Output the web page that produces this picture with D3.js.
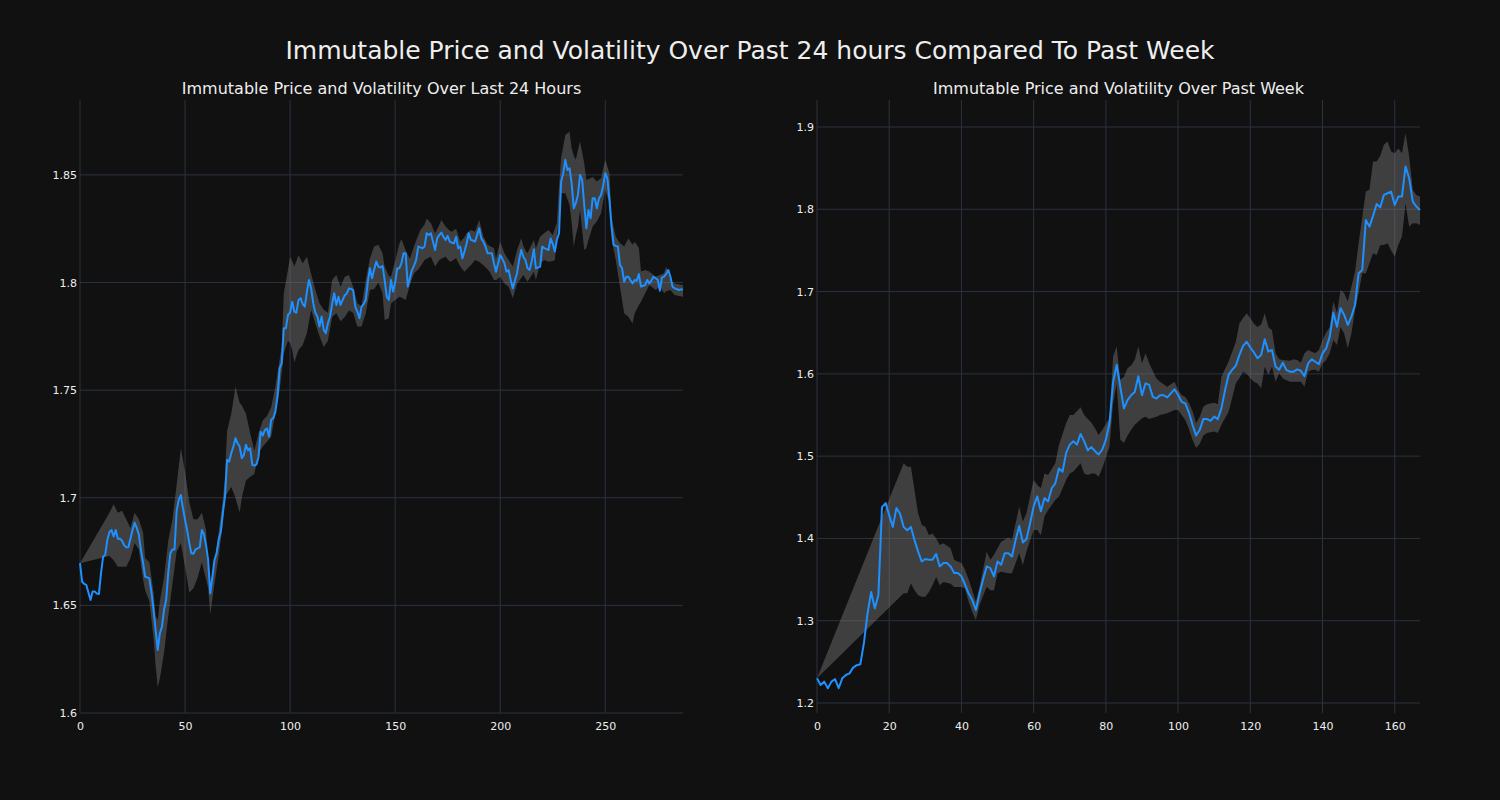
<!DOCTYPE html>
<html><head><meta charset="utf-8">
<script src="https://cdn.jsdelivr.net/npm/d3@7"></script>
<style>
html,body{margin:0;padding:0;background:#111111;}
svg{display:block;}
text{font-family:"DejaVu Sans",sans-serif;fill:#eeeeee;}
</style></head><body>
<svg id="c" width="1500" height="800"></svg>
<script>
const mainTitle = "Immutable Price and Volatility Over Past 24 hours Compared To Past Week";
const dayTitle = "Immutable Price and Volatility Over Last 24 Hours";
const weekTitle = "Immutable Price and Volatility Over Past Week";

// Last 24 hours (5-minute steps): index, price
const dayX = [0,1,2,3,4,5,6,7,8,9,10,11,12,13,14,15,16,17,18,19,20,21,22,23,24,25,26,27,28,29,30,31,32,33,34,35,36,37,38,39,40,41,42,43,44,45,46,47,48,49,50,51,52,53,54,55,56,57,58,59,60,61,62,63,64,65,66,67,68,69,70,71,72,73,74,75,76,77,78,79,80,81,82,83,84,85,86,87,88,89,90,91,92,93,94,95,96,97,98,99,100,101,102,103,104,105,106,107,108,109,110,111,112,113,114,115,116,117,118,119,120,121,122,123,124,125,126,127,128,129,130,131,132,133,134,135,136,137,138,139,140,141,142,143,144,145,146,147,148,149,150,151,152,153,154,155,156,157,158,159,160,161,162,163,164,165,166,167,168,169,170,171,172,173,174,175,176,177,178,179,180,181,182,183,184,185,186,187,188,189,190,191,192,193,194,195,196,197,198,199,200,201,202,203,204,205,206,207,208,209,210,211,212,213,214,215,216,217,218,219,220,221,222,223,224,225,226,227,228,229,230,231,232,233,234,235,236,237,238,239,240,241,242,243,244,245,246,247,248,249,250,251,252,253,254,255,256,257,258,259,260,261,262,263,264,265,266,267,268,269,270,271,272,273,274,275,276,277,278,279,280,281,282,283,284,285,286,287];
const dayPrice = [1.6696,1.661,1.660,1.6595,1.656,1.6525,1.6564,1.6564,1.6555,1.6553,1.665,1.6726,1.6735,1.6804,1.684,1.685,1.682,1.685,1.681,1.681,1.680,1.678,1.677,1.677,1.681,1.685,1.6884,1.686,1.683,1.6757,1.670,1.6633,1.663,1.6625,1.656,1.6479,1.6386,1.6293,1.637,1.640,1.648,1.6525,1.665,1.6742,1.676,1.676,1.694,1.699,1.7013,1.695,1.6897,1.685,1.679,1.6742,1.674,1.676,1.6765,1.677,1.685,1.683,1.678,1.671,1.6556,1.6633,1.6711,1.6742,1.6804,1.6843,1.693,1.7005,1.7176,1.7168,1.7207,1.7238,1.7277,1.7253,1.7238,1.7184,1.7199,1.7246,1.7220,1.723,1.7153,1.7149,1.7155,1.7192,1.7307,1.729,1.7315,1.7322,1.7284,1.7362,1.737,1.740,1.747,1.760,1.7625,1.7788,1.7788,1.785,1.786,1.7911,1.7865,1.786,1.7919,1.7927,1.790,1.7888,1.7958,1.8012,1.7973,1.7904,1.786,1.7842,1.7796,1.7842,1.778,1.7765,1.7811,1.7842,1.790,1.795,1.7896,1.7934,1.7896,1.7919,1.794,1.795,1.7973,1.797,1.7965,1.7888,1.7865,1.7834,1.7888,1.790,1.7919,1.8004,1.8066,1.802,1.806,1.8097,1.8074,1.807,1.8077,1.8012,1.7935,1.7919,1.8012,1.7958,1.800,1.8066,1.8066,1.809,1.8136,1.8136,1.7981,1.802,1.8058,1.808,1.8105,1.8167,1.8163,1.8159,1.8167,1.8229,1.8221,1.8229,1.819,1.8151,1.8205,1.822,1.8232,1.8213,1.8198,1.8217,1.819,1.8185,1.8182,1.8213,1.8159,1.8167,1.8113,1.8144,1.818,1.8229,1.8198,1.8195,1.819,1.822,1.8252,1.8205,1.819,1.8167,1.8136,1.8136,1.8136,1.809,1.805,1.809,1.8128,1.811,1.809,1.805,1.8058,1.8012,1.7973,1.801,1.8043,1.8105,1.8151,1.812,1.8105,1.8066,1.8058,1.810,1.8155,1.8066,1.807,1.8074,1.8167,1.816,1.8155,1.8151,1.8205,1.818,1.8144,1.820,1.8229,1.8469,1.8508,1.857,1.8523,1.8531,1.8461,1.8345,1.837,1.8407,1.850,1.8477,1.836,1.8252,1.8337,1.8298,1.8391,1.8391,1.8345,1.8391,1.8407,1.845,1.8508,1.8484,1.8384,1.826,1.8175,1.817,1.8167,1.8082,1.8066,1.8004,1.8027,1.8027,1.801,1.7996,1.8012,1.8008,1.8039,1.7981,1.7985,1.7988,1.8012,1.7996,1.801,1.8027,1.802,1.8012,1.7962,1.8024,1.8027,1.804,1.8058,1.8027,1.7981,1.7973,1.797,1.7965,1.7968,1.7968];
// volatility band (index, low, high)
const dayBandX = [0,14,16,18,20,22,24,26,28,30,31,33,35,36,37,38,40,42,44,46,48,50,52,54,56,58,60,61,62,64,66,68,69,70,72,74,76,77,79,81,83,85,87,89,91,93,95,96,97,99,100,101,102,104,106,108,110,112,114,116,118,120,122,124,126,128,130,132,134,136,138,140,142,144,145,147,148,150,152,153,155,157,159,161,162,164,165,167,169,171,172,174,176,177,179,181,183,184,186,188,190,192,194,195,197,198,200,202,204,206,208,210,211,212,213,216,217,219,221,223,225,226,227,228,229,231,233,234,235,236,237,238,240,241,242,244,246,248,250,252,253,255,257,259,261,263,264,266,267,269,271,274,276,278,279,281,283,287];
const dayBandLow = [1.6696,1.673,1.671,1.668,1.668,1.668,1.672,1.679,1.676,1.662,1.657,1.652,1.635,1.622,1.612,1.616,1.628,1.645,1.660,1.675,1.679,1.668,1.656,1.658,1.663,1.670,1.662,1.658,1.646,1.660,1.673,1.688,1.700,1.702,1.705,1.700,1.693,1.700,1.708,1.7098,1.711,1.7207,1.7238,1.726,1.7284,1.7393,1.750,1.758,1.767,1.773,1.772,1.7687,1.763,1.7687,1.771,1.7765,1.7873,1.781,1.775,1.770,1.773,1.784,1.7857,1.782,1.784,1.787,1.786,1.7796,1.7796,1.7857,1.7965,1.797,1.800,1.795,1.7826,1.7834,1.7903,1.7919,1.7934,1.793,1.7919,1.7989,1.8043,1.806,1.8074,1.8105,1.811,1.812,1.8074,1.8105,1.811,1.812,1.8097,1.810,1.8113,1.8074,1.805,1.806,1.808,1.8105,1.8097,1.808,1.806,1.805,1.8012,1.801,1.8027,1.7996,1.798,1.7927,1.7996,1.802,1.8035,1.802,1.8004,1.805,1.8012,1.809,1.8105,1.8097,1.810,1.8105,1.8213,1.830,1.8415,1.8415,1.836,1.828,1.8167,1.822,1.826,1.8337,1.8151,1.816,1.8198,1.826,1.8283,1.8322,1.843,1.8368,1.820,1.8105,1.7981,1.7857,1.7841,1.781,1.7857,1.7896,1.7911,1.795,1.7988,1.7965,1.7981,1.795,1.796,1.7965,1.7942,1.7934];
const dayBandHigh = [1.6696,1.693,1.697,1.693,1.694,1.690,1.686,1.693,1.690,1.684,1.672,1.670,1.656,1.645,1.643,1.652,1.663,1.680,1.690,1.706,1.723,1.712,1.698,1.690,1.690,1.693,1.685,1.668,1.659,1.670,1.684,1.699,1.710,1.731,1.739,1.7516,1.744,1.743,1.739,1.730,1.722,1.730,1.736,1.738,1.742,1.7516,1.764,1.770,1.795,1.806,1.812,1.810,1.8075,1.8127,1.809,1.812,1.804,1.7966,1.7904,1.7873,1.786,1.8012,1.8035,1.798,1.8027,1.8035,1.798,1.7904,1.789,1.8012,1.8112,1.8167,1.8175,1.8136,1.8074,1.803,1.8027,1.810,1.818,1.8201,1.815,1.811,1.817,1.822,1.8244,1.827,1.8298,1.8275,1.8229,1.8267,1.829,1.826,1.824,1.8236,1.825,1.819,1.821,1.8229,1.8244,1.8236,1.829,1.8213,1.8175,1.817,1.816,1.811,1.819,1.8136,1.8105,1.8074,1.815,1.8206,1.817,1.815,1.8136,1.8198,1.816,1.8213,1.823,1.8244,1.822,1.825,1.8275,1.8446,1.858,1.8686,1.870,1.8624,1.859,1.857,1.8616,1.8655,1.8554,1.8477,1.848,1.849,1.8469,1.8484,1.857,1.8508,1.830,1.8213,1.8182,1.8167,1.8205,1.8175,1.819,1.816,1.8051,1.8058,1.8051,1.8027,1.8035,1.8043,1.8074,1.8012,1.7996,1.7988];

// Past week (hourly steps): index, price
const weekX = [0,1,2,3,4,5,6,7,8,9,10,11,12,13,14,15,16,17,18,19,20,21,22,23,24,25,26,27,28,29,30,31,32,33,34,35,36,37,38,39,40,41,42,43,44,45,46,47,48,49,50,51,52,53,54,55,56,57,58,59,60,61,62,63,64,65,66,67,68,69,70,71,72,73,74,75,76,77,78,79,80,81,82,83,84,85,86,87,88,89,90,91,92,93,94,95,96,97,98,99,100,101,102,103,104,105,106,107,108,109,110,111,112,113,114,115,116,117,118,119,120,121,122,123,124,125,126,127,128,129,130,131,132,133,134,135,136,137,138,139,140,141,142,143,144,145,146,147,148,149,150,151,152,153,154,155,156,157,158,159,160,161,162,163,164,165,166,167];
const weekPrice = [1.230,1.222,1.226,1.218,1.226,1.229,1.218,1.230,1.234,1.236,1.243,1.246,1.247,1.273,1.309,1.335,1.315,1.331,1.438,1.443,1.428,1.414,1.437,1.430,1.414,1.410,1.414,1.398,1.384,1.372,1.375,1.374,1.374,1.381,1.366,1.370,1.370,1.366,1.358,1.358,1.354,1.344,1.333,1.325,1.313,1.333,1.350,1.366,1.364,1.354,1.372,1.368,1.382,1.382,1.378,1.398,1.415,1.395,1.399,1.418,1.439,1.451,1.433,1.449,1.445,1.461,1.467,1.485,1.481,1.504,1.514,1.518,1.514,1.527,1.518,1.507,1.511,1.506,1.502,1.508,1.520,1.540,1.590,1.611,1.584,1.558,1.568,1.574,1.578,1.597,1.574,1.5885,1.5865,1.572,1.570,1.574,1.574,1.5714,1.5763,1.5812,1.5743,1.566,1.564,1.553,1.538,1.525,1.532,1.545,1.545,1.543,1.548,1.545,1.558,1.580,1.599,1.605,1.610,1.623,1.634,1.639,1.632,1.626,1.619,1.623,1.642,1.627,1.629,1.609,1.605,1.6135,1.6046,1.6026,1.6026,1.6054,1.6038,1.5973,1.6127,1.6176,1.6147,1.6119,1.6249,1.631,1.6452,1.6744,1.6573,1.6797,1.6716,1.6594,1.6695,1.6837,1.7222,1.7262,1.787,1.7789,1.7919,1.8065,1.8025,1.8175,1.8195,1.8215,1.8053,1.8154,1.8154,1.852,1.8378,1.8094,1.8033,1.7992];
const weekBandX = [0,24,25,26,27,28,29,30,31,32,33,34,35,37,38,40,41,42,43,44,45,47,48,49,50,51,53,54,56,57,58,60,61,62,63,64,66,67,69,70,71,73,74,75,76,77,78,79,81,82,83,84,85,86,87,88,89,90,91,92,94,95,97,99,100,101,102,103,104,105,106,107,108,110,111,112,114,116,117,118,119,120,121,122,123,124,125,126,127,128,129,131,132,133,134,135,136,137,138,139,140,141,142,143,144,145,146,147,148,149,150,151,152,153,154,155,156,157,158,159,160,161,162,163,164,165,166,167];
const weekBandLow = [1.230,1.3333,1.3333,1.3454,1.337,1.331,1.329,1.329,1.335,1.343,1.353,1.343,1.347,1.345,1.341,1.341,1.339,1.323,1.311,1.301,1.319,1.3414,1.337,1.337,1.3576,1.3596,1.3576,1.3576,1.382,1.3677,1.384,1.4103,1.4103,1.404,1.4265,1.4346,1.4467,1.4508,1.471,1.479,1.4812,1.4913,1.479,1.477,1.479,1.479,1.475,1.4852,1.5116,1.5642,1.588,1.520,1.516,1.525,1.532,1.538,1.542,1.546,1.548,1.545,1.548,1.550,1.552,1.556,1.556,1.550,1.544,1.533,1.520,1.510,1.515,1.525,1.528,1.530,1.528,1.538,1.554,1.5885,1.595,1.6027,1.600,1.5946,1.5905,1.5884,1.5824,1.6087,1.5986,1.6087,1.5905,1.6006,1.5945,1.5905,1.5905,1.5905,1.5905,1.5844,1.6026,1.6046,1.605,1.6026,1.6127,1.6168,1.625,1.641,1.635,1.657,1.649,1.631,1.649,1.6776,1.6979,1.7222,1.7222,1.7344,1.7466,1.7445,1.7567,1.7567,1.7587,1.750,1.7425,1.7567,1.7668,1.8073,1.7789,1.783,1.783,1.7809];
const weekBandHigh = [1.230,1.4913,1.487,1.487,1.4588,1.4305,1.4163,1.4143,1.404,1.406,1.400,1.392,1.394,1.388,1.3738,1.370,1.362,1.350,1.337,1.323,1.341,1.3839,1.374,1.380,1.388,1.396,1.401,1.398,1.4386,1.4204,1.4306,1.471,1.465,1.4609,1.479,1.477,1.4913,1.5136,1.540,1.550,1.550,1.5594,1.550,1.545,1.5407,1.5339,1.5258,1.5318,1.546,1.621,1.633,1.5925,1.5966,1.6068,1.610,1.617,1.6331,1.613,1.625,1.613,1.5945,1.5905,1.5844,1.5905,1.5803,1.5743,1.572,1.565,1.555,1.540,1.548,1.560,1.563,1.565,1.563,1.5966,1.6149,1.639,1.6614,1.668,1.6736,1.6676,1.6613,1.657,1.660,1.6735,1.657,1.653,1.625,1.6176,1.6168,1.616,1.6176,1.6168,1.6135,1.625,1.629,1.627,1.625,1.629,1.641,1.650,1.657,1.6878,1.6735,1.702,1.6979,1.6878,1.706,1.7242,1.7587,1.790,1.8215,1.8236,1.858,1.858,1.865,1.8783,1.8823,1.8702,1.868,1.874,1.868,1.8924,1.864,1.8236,1.8175,1.8154];

const dayXTicks = [0,50,100,150,200,250];
const dayYTicks = [1.6,1.65,1.7,1.75,1.8,1.85];
const dayYLabels = ["1.6","1.65","1.7","1.75","1.8","1.85"];
const weekXTicks = [0,20,40,60,80,100,120,140,160];
const weekYTicks = [1.2,1.3,1.4,1.5,1.6,1.7,1.8,1.9];
const weekYLabels = ["1.2","1.3","1.4","1.5","1.6","1.7","1.8","1.9"];

const svg = d3.select("#c");
svg.append("rect").attr("width",1500).attr("height",800).attr("fill","#111111");
svg.append("text").attr("x",750).attr("y",59).attr("text-anchor","middle")
  .style("font-size","25px").text(mainTitle);

function panel(o){
  const g = svg.append("g");
  const x = d3.scaleLinear().domain(o.xDomain).range([o.left,o.right]);
  const y = d3.scaleLinear().domain(o.yDomain).range([o.bottom,o.top]);
  g.selectAll(".gx").data(o.xTicks).join("line")
    .attr("x1",d=>x(d)).attr("x2",d=>x(d)).attr("y1",o.top).attr("y2",o.bottom)
    .attr("stroke","#2a3341").attr("stroke-width",1);
  g.selectAll(".gy").data(o.yTicks).join("line")
    .attr("x1",o.left).attr("x2",o.right).attr("y1",d=>y(d)).attr("y2",d=>y(d))
    .attr("stroke","#2a3341").attr("stroke-width",1);
  const band = o.bandX.map((v,i)=>({x:v,lo:o.bandLow[i],hi:o.bandHigh[i]}));
  g.append("path").datum(band)
    .attr("d",d3.area().x(d=>x(d.x)).y0(d=>y(d.lo)).y1(d=>y(d.hi)))
    .attr("fill","#808080").attr("fill-opacity",0.42);
  const pts = o.xs.map((v,i)=>({x:v,y:o.ys[i]}));
  g.append("path").datum(pts)
    .attr("d",d3.line().x(d=>x(d.x)).y(d=>y(d.y)))
    .attr("fill","none").attr("stroke","#1e90ff").attr("stroke-width",2)
    .attr("stroke-linejoin","round");
  const xa = d3.axisBottom(x).tickValues(o.xTicks).tickSize(0).tickPadding(9).tickFormat(d3.format("d"));
  const ga = g.append("g").attr("transform",`translate(0,${o.bottom})`).call(xa);
  ga.select(".domain").remove();
  const ya = d3.axisLeft(y).tickValues(o.yTicks).tickSize(0).tickPadding(3)
    .tickFormat((d,i)=>o.yLabels[i]);
  const gy = g.append("g").attr("transform",`translate(${o.left},0)`).call(ya);
  gy.select(".domain").remove();
  g.selectAll(".tick text").style("font-size","11px").attr("fill","#eeeeee")
    .style("font-family","DejaVu Sans, sans-serif");
  g.append("text").attr("x",(o.left+o.right)/2).attr("y",o.top-6).attr("text-anchor","middle")
    .style("font-size","16px").text(o.title);
}

panel({left:80,right:683,top:100,bottom:713,xDomain:[0,287],yDomain:[1.6,1.8848],
  xTicks:dayXTicks,yTicks:dayYTicks,yLabels:dayYLabels,xs:dayX,ys:dayPrice,
  bandX:dayBandX,bandLow:dayBandLow,bandHigh:dayBandHigh,title:dayTitle});
panel({left:817,right:1420,top:100,bottom:713,xDomain:[0,167],yDomain:[1.18785,1.9328],
  xTicks:weekXTicks,yTicks:weekYTicks,yLabels:weekYLabels,xs:weekX,ys:weekPrice,
  bandX:weekBandX,bandLow:weekBandLow,bandHigh:weekBandHigh,title:weekTitle});
</script>
</body></html>
